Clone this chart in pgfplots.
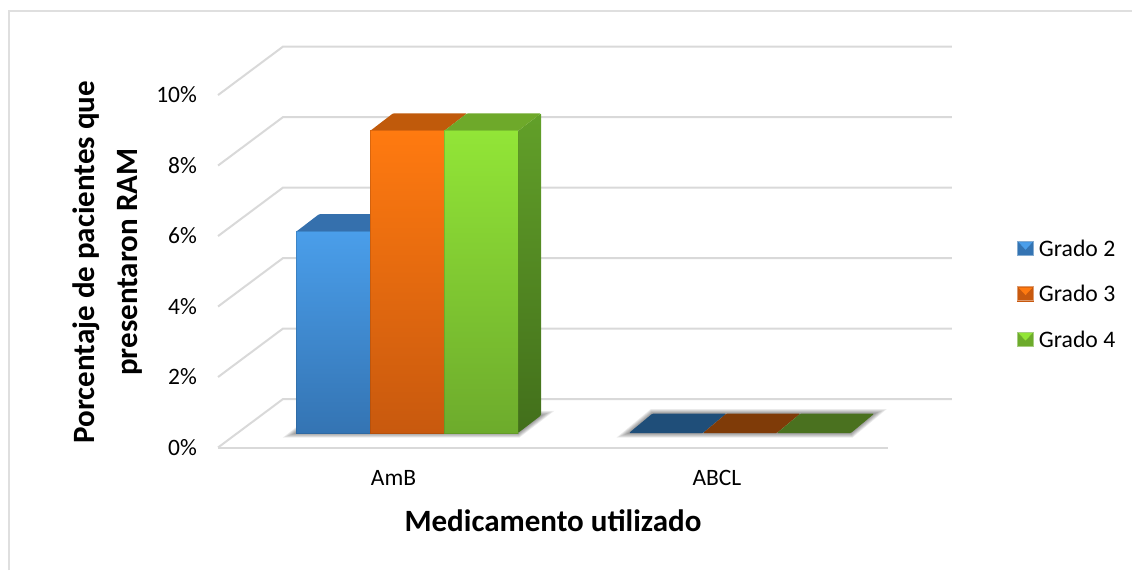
\documentclass[border=0pt]{standalone}
\usepackage{pgfplots}
\pgfplotsset{compat=1.18}
\usepackage{fontspec}
\setmainfont{Carlito}
\definecolor{gridc}{HTML}{D9D9D9}
\definecolor{frontA}{HTML}{4A9EEA}\definecolor{frontAb}{HTML}{3474B3}
\definecolor{frontB}{HTML}{FF7A10}\definecolor{frontBb}{HTML}{C8590E}
\definecolor{frontC}{HTML}{92E537}\definecolor{frontCb}{HTML}{6DAB2C}
\definecolor{topA}{HTML}{3570AD}\definecolor{topB}{HTML}{C05A0B}\definecolor{topC}{HTML}{6EA92A}
\definecolor{sideCt}{HTML}{62A029}\definecolor{sideCb}{HTML}{426F1B}
\definecolor{flatA}{HTML}{1F4E79}\definecolor{flatB}{HTML}{7F3B08}\definecolor{flatC}{HTML}{4A711F}
% Bevelled legend swatch: #1 light top, #2 dark bottom, #3 rim
\newcommand{\swatch}[3]{%
  \fill[#2] (0pt,-6.6pt) rectangle (16pt,7.4pt);
  \fill[#1] (1.5pt,6.4pt) -- (14.5pt,6.4pt) -- (8pt,-0.6pt) -- cycle;
  \draw[#3, line width=.8pt] (0pt,-6.6pt) rectangle (16pt,7.4pt);
}
\pgfplotsset{
  floorline/.style={draw=gridc, line width=2pt, forget plot},
  soft/.style={draw=black, draw opacity=.075, fill=none, line join=miter, forget plot},
  face/.style={draw=none, forget plot, rounded corners=1pt},
  frontbar/.style={ybar, bar width=74pt, bar shift=#1, forget plot, line width=1pt},
}
\begin{document}
\begin{tikzpicture}
\begin{axis}[
  scale only axis, width=1132pt, height=570pt,
  xmin=-1.2222, xmax=2.1772, ymin=-3.8865, ymax=12.2837,
  axis line style={draw=none}, major tick length=0pt,
  tick label style={font=\fontsize{23.5}{27}\selectfont, inner sep=0pt},
  ytick={0,2,4,6,8,10}, yticklabels={0\%,2\%,4\%,6\%,8\%,10\%},
  xtick={-0.0405,0.9309}, xticklabels={AmB,ABCL},
  yticklabel style={anchor=east, xshift=197pt, yshift=-14.4pt},
  xticklabel style={anchor=center, yshift=92pt},
  xlabel={Medicamento utilizado},
  xlabel style={at={(axis cs:0.4384,-2.5)}, anchor=center, font=\bfseries\fontsize{31}{35}\selectfont},
  ylabel={Porcentaje de pacientes que\\presentaron RAM},
  ylabel style={at={(axis cs:-0.9009,4.85)}, anchor=center, align=center, font=\bfseries\fontsize{31}{43}\selectfont},
  legend style={at={(axis description cs:0.8984,0.484)}, anchor=west, draw=none, fill=none,
    font=\fontsize{23.7}{27}\selectfont, inner sep=0pt, row sep=27.5pt, nodes={inner sep=0pt}},
  legend cell align=left,
]
% Back wall and floor lines of the box
\addplot[floorline] coordinates {(-0.5676,-0.411) (-0.3724,0.9645) (1.6366,0.9645)};
\addplot[floorline] coordinates {(-0.5676,1.589) (-0.3724,2.9645) (1.6366,2.9645)};
\addplot[floorline] coordinates {(-0.5676,3.589) (-0.3724,4.9645) (1.6366,4.9645)};
\addplot[floorline] coordinates {(-0.5676,5.589) (-0.3724,6.9645) (1.6366,6.9645)};
\addplot[floorline] coordinates {(-0.5676,7.589) (-0.3724,8.9645) (1.6366,8.9645)};
\addplot[floorline] coordinates {(-0.5676,9.589) (-0.3724,10.9645) (1.6366,10.9645)};
\addplot[floorline] coordinates {(-0.5676,-0.411) (1.4444,-0.411)};
% Outer frame
\addplot[draw=gridc!85!white, line width=2pt, forget plot] coordinates {(-1.1952,-3.8865) (-1.1952,11.97) (2.1772,11.97)};

% Soft shadows on the floor
\pgfplotsinvokeforeach{1.5,3,4.5,6,7.5,9}{
  \addplot[soft, line width=#1pt] coordinates {(-0.3333,0) (0.3333,0) (0.4024,0.5) (-0.2642,0.5)} -- cycle;
  \addplot[soft, line width=#1pt] coordinates {(0.6667,0) (1.3333,0) (1.4033,0.55) (0.7367,0.55)} -- cycle;
}

% Grado 2
\addplot[face, fill=topA] coordinates {(-0.3333,5.71) (-0.1111,5.71) (-0.0420,6.21) (-0.2642,6.21)} -- cycle;
\addplot[frontbar=-74pt, draw=frontAb!70!black, draw opacity=.3, top color=frontA, bottom color=frontAb] coordinates {(0,5.71)};
% Grado 3
\addplot[face, fill=topB] coordinates {(-0.1111,8.57) (0.1111,8.57) (0.1802,9.07) (-0.0420,9.07)} -- cycle;
\addplot[frontbar=0pt, draw=frontBb!70!black, draw opacity=.3, top color=frontB, bottom color=frontBb] coordinates {(0,8.57)};
% Grado 4
\addplot[face, top color=sideCt, bottom color=sideCb] coordinates {(0.3333,0) (0.4024,0.5) (0.4024,9.07) (0.3333,8.57)} -- cycle;
\addplot[face, fill=topC] coordinates {(0.1111,8.57) (0.3333,8.57) (0.4024,9.07) (0.1802,9.07)} -- cycle;
\addplot[frontbar=74pt, draw=frontCb!70!black, draw opacity=.3, top color=frontC, bottom color=frontCb] coordinates {(0,8.57)};

% ABCL: all three grades are zero, only the flat caps remain
\addplot[face, fill=flatA] coordinates {(0.6667,0) (0.8889,0) (0.9589,0.55) (0.7367,0.55)} -- cycle;
\addplot[face, fill=flatB] coordinates {(0.8889,0) (1.1111,0) (1.1811,0.55) (0.9589,0.55)} -- cycle;
\addplot[face, fill=flatC] coordinates {(1.1111,0) (1.3333,0) (1.4033,0.55) (1.1811,0.55)} -- cycle;

\addlegendimage{legend image code/.code={\swatch{frontA}{frontAb}{frontAb!60!white}}}
\addlegendentry{\hspace{5pt}Grado 2}
\addlegendimage{legend image code/.code={\swatch{frontB}{frontBb}{frontBb!60!white}}}
\addlegendentry{\hspace{5pt}Grado 3}
\addlegendimage{legend image code/.code={\swatch{frontC}{frontCb}{frontCb!60!white}}}
\addlegendentry{\hspace{5pt}Grado 4}
\end{axis}
\end{tikzpicture}
\end{document}
